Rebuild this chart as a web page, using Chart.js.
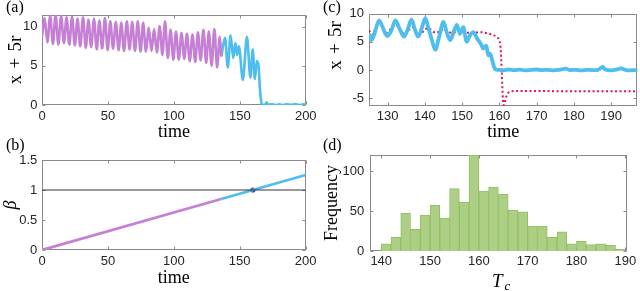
<!DOCTYPE html>
<html><head><meta charset="utf-8">
<script src="https://cdn.jsdelivr.net/npm/chart.js@4.4.1/dist/chart.umd.min.js"></script>
<style>
html,body{margin:0;padding:0;background:#fff;width:640px;height:291px;overflow:hidden;position:relative}
canvas{position:absolute;display:block}
</style></head><body>
<canvas id="ca" width="320" height="145" style="left:0;top:0"></canvas>
<canvas id="cc" width="320" height="145" style="left:320px;top:0"></canvas>
<canvas id="cb" width="320" height="155" style="left:0;top:136px"></canvas>
<canvas id="cd" width="320" height="155" style="left:320px;top:136px"></canvas>
<script>
// ---------------- data ----------------
// (a) x+5r vs time
const aPurpleT = [0,2.0,4.1,6.2,8.3,10.3,12.4,14.5,16.6,18.6,20.7,22.8,24.9,26.9,29.0,31.1,33.2,35.2,37.3,39.4,41.5,43.5,45.6,47.7,49.8,51.8,53.9,56.0,58.1,60.1,62.2,64.3,66.4,68.4,70.5,72.6,74.7,76.7,78.8,80.9,83.0,85.0,87.1,89.2,91.3,93.3,95.4,97.5,99.6,101.6,103.7,105.8,107.9,109.9,112.0,114.1,116.2,118.2,120.3,122.4,124.5,126.5,128.6,130.7,132.8,134.8,136.0];
const aPurpleY = [8.7,11.1,8.0,11.4,7.8,11.6,7.7,11.4,7.9,11.2,7.7,11.3,7.6,11.0,7.5,11.2,7.3,10.9,7.4,11.0,7.1,10.8,7.2,11.1,7.0,10.7,7.2,10.6,7.0,10.5,6.9,10.7,7.1,10.6,6.9,10.7,6.8,10.5,6.8,9.9,6.9,9.7,6.7,10.1,6.4,10.7,6.0,9.6,5.8,9.4,5.8,9.2,5.9,9.1,5.6,9.0,5.5,9.3,5.7,9.6,5.4,9.4,5.0,9.7,4.8,8.7,6.2];
const aCyanT = [136.0,138.8,140.9,143.0,145.0,146.6,148.0,149.3,152.3,155.4,158.0,159.8,161.4,162.9,164.2,165.3,166.4,167.5,169.5,170.3,171.2,174.0,177.0,180.0,183.0,186.0,189.0,192.0,195.0,198.0,200.0];
const aCyanY = [6.2,8.6,4.8,8.9,6.0,7.9,6.4,7.5,3.2,8.7,3.5,7.1,3.3,5.6,5.0,2.0,0.3,0.0,0.1,0.35,0.05,0.1,0.0,0.08,0.0,0.1,0.02,0.12,0.0,0.08,0.05];
const aXTicks = [0,50,100,150,200];
const aYTicks = [0,5,10];

// (b) beta vs time
const bPurpleT = [0,136];
const bPurpleY = [0,0.85];
const bCyanT = [136,200];
const bCyanY = [0.85,1.25];
const bThreshT = [0,200];
const bThreshY = [1,1];
const bCritT = [160];
const bCritY = [1];
const bXTicks = [0,50,100,150,200];
const bYTicks = [0,0.5,1,1.5];

// (c) zoomed x+5r: noisy run and deterministic (dotted)
const cCyanT = [125.0,125.7,126.5,127.7,128.5,129.9,131.0,132.1,133.2,134.4,135.4,136.4,137.3,138.2,139.2,140.1,140.8,141.8,142.8,143.8,145.0,145.8,146.8,147.8,148.6,149.4,150.3,151.2,152.0,153.0,154.0,155.2,155.6,156.5,157.0,157.5,158.2,158.8,159.5,161.0,162.5,164.0,165.5,167.0,168.5,170.0,171.5,173.0,174.5,176.0,177.8,179.0,180.5,182.0,183.5,185.0,186.5,187.7,188.5,190.0,191.5,192.6,193.8,195.0,196.5,197.5];
const cCyanY = [6.4,5.3,6.5,8.8,7.8,6.0,7.0,8.8,7.3,5.9,7.2,8.9,7.2,5.9,7.5,9.2,7.8,5.5,3.6,5.8,8.5,6.8,5.3,6.9,8.0,6.4,7.6,5.0,6.0,6.7,5.6,4.4,3.8,4.3,2.6,2.9,1.4,0.2,0.05,-0.05,0.1,0.0,0.08,-0.05,0.05,0.1,0.0,0.05,-0.05,0.05,0.25,0.0,0.05,-0.05,0.05,0.0,0.05,0.55,0.05,-0.05,0.1,0.3,0.05,-0.05,0.0,-0.1];
const cRedT = [125.0,125.8,127.6,129.6,132.1,134.6,136.6,138.6,140.7,142.9,145.2,147.0,149.2,151.0,153.0,155.0,156.8,158.2,159.2,159.9,160.3,160.6,160.85,161.1,161.4,161.8,162.4,163.2,165.0,170.0,180.0,190.0,197.5];
const cRedY = [7.0,6.3,8.4,6.6,8.0,6.4,7.6,6.4,7.4,6.6,7.2,6.6,6.8,6.6,6.6,6.7,6.5,6.2,5.9,5.3,4.0,0.0,-4.0,-6.2,-5.8,-4.8,-4.0,-3.75,-3.7,-3.7,-3.75,-3.75,-3.75];
const cXTicks = [130,140,150,160,170,180,190];
const cYTicks = [-5,0,5,10];

// (d) histogram of Tc
const dBinCenters = [141,143,145,147,149,151,153,155,157,159,161,163,165,167,169,171,173,175,177,179,181,183,185,187,189];
const dCounts = [9,17,47,27,45,57,41,78,61,120,75,80,71,51,49,31,31,17,24,9,12,8,9,7,2];
const dXTicks = [140,150,160,170,180,190];
const dYTicks = [0,50,100];

// ---------------- style ----------------
const SANS = "'Liberation Sans', Arial, sans-serif";
const SERIF = "'Liberation Serif', 'Times New Roman', serif";
const AXIS_COLOR = '#8a8a8a';
const TICK_TEXT = '#262626';
const PURPLE = '#C580D6';
const CYAN = '#4DBEEE';
const RED = '#E2174A';

const boxTicks = {
  id: 'boxTicks',
  beforeDatasetsDraw(chart) {
    const {ctx, chartArea: a, scales} = chart;
    const x = scales.x, y = scales.y;
    ctx.save();
    ctx.strokeStyle = AXIS_COLOR; ctx.lineWidth = 1;
    const L = Math.round(a.left) + 0.5, R = Math.round(a.right) - 0.5;
    const T = Math.round(a.top) + 0.5, B = Math.round(a.bottom) - 0.5;
    ctx.strokeRect(L, T, R - L, B - T);
    ctx.beginPath();
    const tl = 3;
    x.ticks.forEach(t => { const p = Math.round(x.getPixelForValue(t.value)) + 0.5;
      ctx.moveTo(p, B); ctx.lineTo(p, B - tl); ctx.moveTo(p, T); ctx.lineTo(p, T + tl); });
    y.ticks.forEach(t => { const p = Math.round(y.getPixelForValue(t.value)) + 0.5;
      ctx.moveTo(L, p); ctx.lineTo(L + tl, p); ctx.moveTo(R, p); ctx.lineTo(R - tl, p); });
    ctx.stroke();
    ctx.restore();
  }
};
const panelText = {
  id: 'panelText',
  afterDraw(chart, args, opts) {
    const ctx = chart.ctx;
    (opts.items || []).forEach(it => {
      ctx.save();
      ctx.font = it.font; ctx.fillStyle = '#000';
      ctx.textBaseline = 'alphabetic'; ctx.textAlign = 'left';
      ctx.fillText(it.text, it.x, it.y);
      ctx.restore();
    });
  }
};

function xScale(min, max, tickVals, pad, height, title, titlePad) {
  return {
    type: 'linear', position: 'bottom', min, max, offset: false,
    afterBuildTicks: s => { s.ticks = tickVals.map(v => ({value: v})); },
    afterFit: s => { s.height = height; },
    grid: {display: false, drawTicks: false, offset: false},
    border: {display: false},
    ticks: {padding: pad, color: TICK_TEXT, font: {family: SANS, size: 13}, autoSkip: false, maxRotation: 0,
            callback: v => String(v)},
    title: title ? {display: true, text: title, color: '#000', font: {family: SERIF, size: 18}, padding: {top: 0, bottom: titlePad}} : {display: false}
  };
}
function yScale(min, max, tickVals, pad, width, title, titlePad, italic, size) {
  return {
    type: 'linear', position: 'left', min, max,
    afterBuildTicks: s => { s.ticks = tickVals.map(v => ({value: v})); },
    afterFit: s => { s.width = width; },
    grid: {display: false, drawTicks: false},
    border: {display: false},
    ticks: {padding: pad, color: TICK_TEXT, font: {family: SANS, size: 13}, autoSkip: false,
            callback: v => String(v)},
    title: {display: true, text: title, color: '#000', font: {family: SERIF, size: size || 18, style: italic ? 'italic' : 'normal'}, padding: {top: titlePad, bottom: 0}}
  };
}
const pts = (xs, ys) => xs.map((v, i) => ({x: v, y: ys[i]}));
const base = (padding, scales, items) => ({
  responsive: false, animation: false, devicePixelRatio: 1,
  layout: {padding},
  plugins: {legend: {display: false}, tooltip: {enabled: false}, panelText: {items}},
  scales
});
const lineDs = (data, color, width, extra) => Object.assign({
  data, borderColor: color, backgroundColor: color, borderWidth: width,
  pointRadius: 0, fill: false, cubicInterpolationMode: 'monotone'
}, extra || {});

// (a)
new Chart(document.getElementById('ca'), {
  type: 'line',
  data: {datasets: [
    lineDs(pts(aPurpleT, aPurpleY), PURPLE, 2.6),
    lineDs(pts(aCyanT, aCyanY), CYAN, 2.6)
  ]},
  options: base({left: 0, top: 15, right: 12, bottom: 0}, {
    x: xScale(0, 200, aXTicks, 3.4, 40, 'time', 1.7),
    y: yScale(0, 11.5, aYTicks, 4.5, 42, 'x\u2004+\u20045r', 4.2, false, 19)
  }, [{text: '(a)', x: 6, y: 11.5, font: "16px " + SERIF}]),
  plugins: [boxTicks, panelText]
});

// (c)
new Chart(document.getElementById('cc'), {
  type: 'line',
  data: {datasets: [
    lineDs(pts(cCyanT, cCyanY), CYAN, 3.8),
    lineDs(pts(cRedT, cRedY), RED, 2, {borderDash: [2, 2.5]})
  ]},
  options: base({left: 0, top: 13.5, right: 2.7, bottom: 0}, {
    x: xScale(125, 197, cXTicks, 3, 39, 'time', 1.7),
    y: yScale(-6.35, 10, cYTicks, 5, 49, '\u2003\u2002x\u2004+\u20045r', 4.2, false, 19)
  }, [{text: '(c)', x: 3, y: 11.5, font: "16px " + SERIF}]),
  plugins: [boxTicks, panelText]
});

// (b)
new Chart(document.getElementById('cb'), {
  type: 'line',
  data: {datasets: [
    lineDs(pts(bThreshT, bThreshY), 'rgba(20,20,20,0.85)', 1, {cubicInterpolationMode: 'default'}),
    lineDs(pts(bPurpleT, bPurpleY), PURPLE, 2.8, {cubicInterpolationMode: 'default'}),
    lineDs(pts(bCyanT, bCyanY), CYAN, 2.8, {cubicInterpolationMode: 'default'}),
    {data: pts(bCritT, bCritY), showLine: false, pointRadius: 2.6, pointBackgroundColor: '#7E2F8E', pointBorderColor: '#7E2F8E', borderWidth: 0}
  ]},
  options: base({left: 0, top: 24, right: 12.5, bottom: 0}, {
    x: xScale(0, 200, bXTicks, 3.6, 41, 'time', 1.9),
    y: yScale(0, 1.5, bYTicks, 4.7, 42, '\u03B2', 0.9, true)
  }, [{text: '(b)', x: 6, y: 14, font: "16px " + SERIF}]),
  plugins: [boxTicks, panelText]
});

// (d)
new Chart(document.getElementById('cd'), {
  type: 'bar',
  data: {datasets: [{
    data: pts(dBinCenters, dCounts),
    backgroundColor: '#ADCF85', borderColor: '#92C063', borderWidth: 1,
    barPercentage: 1.0, categoryPercentage: 1.0
  }]},
  options: base({left: 0, top: 19, right: 13, bottom: 0}, {
    x: xScale(137.7, 190.35, dXTicks, 3, 40, null, 0),
    y: yScale(0, 120, dYTicks, 5.7, 50, 'Frequency', 1.7, false)
  }, [{text: '(d)', x: 3, y: 13.5, font: "16px " + SERIF},
      {text: 'T', x: 172, y: 151, font: "italic 19px " + SERIF},
      {text: 'c', x: 184.5, y: 153.5, font: "italic 13px " + SERIF}]),
  plugins: [boxTicks, panelText]
});
</script>
</body></html>
